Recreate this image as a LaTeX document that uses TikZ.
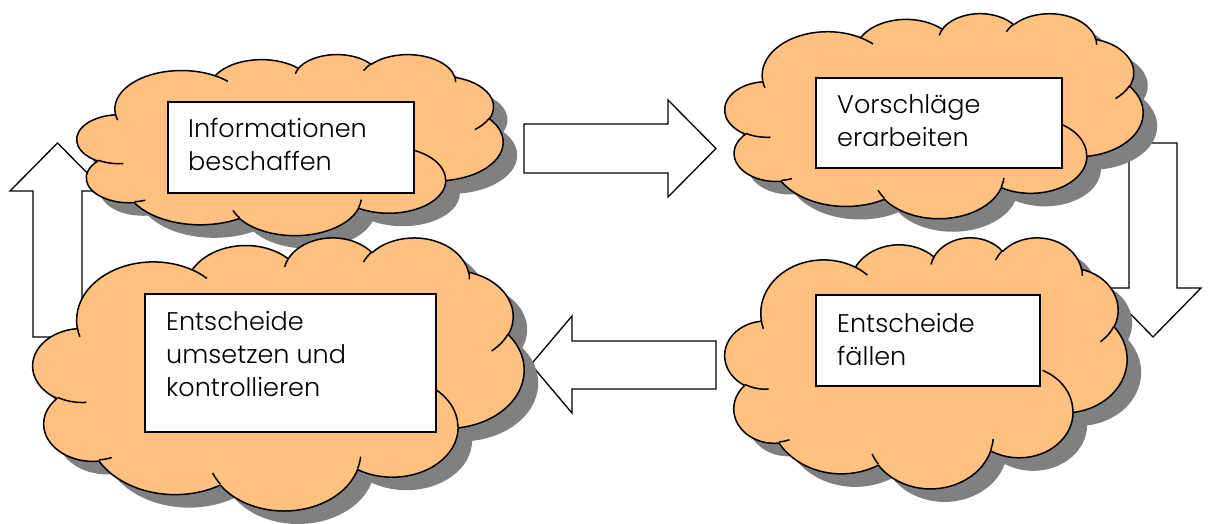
\documentclass[tikz,border=0pt]{standalone}
\usepackage{fontspec}
\setmainfont{Poppins Light}
\definecolor{cloudfill}{RGB}{255,192,128}
\definecolor{cloudshadow}{RGB}{128,128,128}

% Elliptical arc given by radii and visual start/sweep angles (DrawingML style),
% converted to TikZ's parametric angles and stored as \cld<name>.
\newcommand\mkarc[5]{%
  \pgfmathsetmacro\arcS{atan2((#2)*sin(#4),(#3)*cos(#4))}%
  \pgfmathsetmacro\arcE{atan2((#2)*sin((#4)+(#5)),(#3)*cos((#4)+(#5)))}%
  \pgfmathsetmacro\arcD{mod(720+(\arcE)-(\arcS),360)}%
  \expandafter\xdef\csname cld#1\endcsname{arc[start angle=\arcS,delta angle=\arcD,x radius=#2,y radius=#3]}%
}
% outline of the cloud (box 432 x 432)
\mkarc{A}{67.53}{91.90}{-190.48748}{123.78053}
\mkarc{B}{53.33}{72.67}{-144.10238}{89.94523}
\mkarc{C}{43.65}{59.45}{-145.80792}{99.72302}
\mkarc{D}{48.57}{65.95}{-130.98607}{117.24173}
\mkarc{E}{53.33}{72.73}{-78.70888}{109.02692}
\mkarc{F}{67.75}{92.20}{-46.26725}{130.26900}
\mkarc{G}{57.85}{78.67}{0.62502}{114.03333}
\mkarc{H}{67.52}{92.15}{22.45160}{115.17255}
\mkarc{I}{77.20}{105.43}{66.24263}{75.71102}
\mkarc{J}{43.60}{59.18}{-274.94208}{146.73557}
\mkarc{K}{43.45}{59.45}{-246.82850}{152.51885}
% short inner strokes between the puffs
\mkarc{a}{43.45}{59.45}{86.74200}{26.42950}
\mkarc{b}{43.60}{59.18}{73.61047}{11.44747}
\mkarc{c}{67.52}{92.15}{137.62415}{14.08110}
\mkarc{d}{67.52}{92.15}{6.45327}{15.99835}
\mkarc{e}{57.85}{78.67}{-70.29235}{70.91737}
\mkarc{f}{53.33}{72.73}{30.31803}{27.75150}
\mkarc{g}{48.57}{65.95}{-13.74433}{14.85375}
\mkarc{h}{48.57}{65.95}{-149.18145}{18.19537}
\mkarc{i}{43.65}{59.45}{-163.49427}{17.68635}
\mkarc{j}{67.53}{91.90}{-66.70695}{12.31935}
\mkarc{k}{67.53}{91.90}{157.65435}{11.85817}

\def\cldpath{(39.00,143.70) \cldA \cldB \cldC \cldD \cldE \cldF \cldG \cldH \cldI \cldJ \cldK -- cycle}
\def\cldinner{(46.93,261.77) \clda (69.28,348.99) \cldb (164.78,390.90) \cldc
  (288.27,347.51) \cldd (341.29,229.54) \clde (417.98,153.54) \cldf
  (383.24,54.26) \cldg (290.78,39.52) \cldh (221.41,47.20) \cldi
  (140.00,51.92) \cldj (41.27,157.89) \cldk}

% cloud with drop shadow: left, top, width, height (pixels)
\newcommand\cloudat[4]{%
  \pgfmathsetmacro\cldsx{#3/432}%
  \pgfmathsetmacro\cldsy{#4/432}%
  \begin{scope}[shift={(#1+14,#2+13)},x=\cldsx pt,y=-\cldsy pt]
    \fill[cloudshadow] \cldpath;
  \end{scope}
  \begin{scope}[shift={(#1,#2)},x=\cldsx pt,y=-\cldsy pt]
    \filldraw[cloudstroke,fill=cloudfill] \cldpath;
    \draw[cloudstroke] \cldinner;
  \end{scope}
}

\tikzset{
  cloudstroke/.style={draw=black,line width=1.5pt,line join=round},
  blockarrow/.style={draw=black,fill=white,line width=1.3pt,line join=miter},
  stepbox/.style={draw=black,line width=2pt,fill=white,inner sep=0pt,anchor=north west},
  % base anchor sits on the last line of a multi-line label
  steptext/.style={anchor=base west,align=left,inner sep=0pt,
    font=\fontsize{25.5}{33}\selectfont}
}

\begin{document}
\begin{tikzpicture}[x=1pt,y=-1pt]
\useasboundingbox[fill=white] (0,0) rectangle (1208,524);

% block arrows of the cycle
\draw[blockarrow] (524,124) -- (668,124) -- (668,100) -- (716,148.5) -- (668,197) -- (668,173) -- (524,173) -- cycle;
\draw[blockarrow] (1129,143) -- (1177,143) -- (1177,288) -- (1201,288) -- (1153,337) -- (1105,288) -- (1129,288) -- cycle;
\draw[blockarrow] (716,341) -- (572,341) -- (572,316) -- (531,364.5) -- (572,413) -- (572,389) -- (716,389) -- cycle;
\draw[blockarrow] (33,337) -- (33,191) -- (10,191) -- (57.5,143) -- (105,191) -- (82,191) -- (82,337) -- cycle;

% step 1
\cloudat{77}{54}{426}{181}
\node[stepbox,minimum width=246pt,minimum height=91pt] (r1) at (167,101) {};
\node[steptext] (t1) at ([shift={(21,70)}]r1.north west) {Informationen\\beschaffen};

% step 2
\cloudat{725}{13}{418}{205}
\node[stepbox,minimum width=246pt,minimum height=90pt] (r2) at (815,77) {};
\node[steptext] (t2) at ([shift={(22,70)}]r2.north west) {Vorschläge\\erarbeiten};

% step 3
\cloudat{725}{237}{402}{251}
\node[stepbox,minimum width=224pt,minimum height=91pt] (r3) at (815,294) {};
\node[steptext] (t3) at ([shift={(22,71)}]r3.north west) {Entscheide\\fällen};

% step 4
\cloudat{33}{237}{491}{273}
\node[stepbox,minimum width=291pt,minimum height=138pt] (r4) at (144,293) {};
\node[steptext] (t4) at ([shift={(22,103)}]r4.north west) {Entscheide\\umsetzen und\\kontrollieren};
\end{tikzpicture}
\end{document}
